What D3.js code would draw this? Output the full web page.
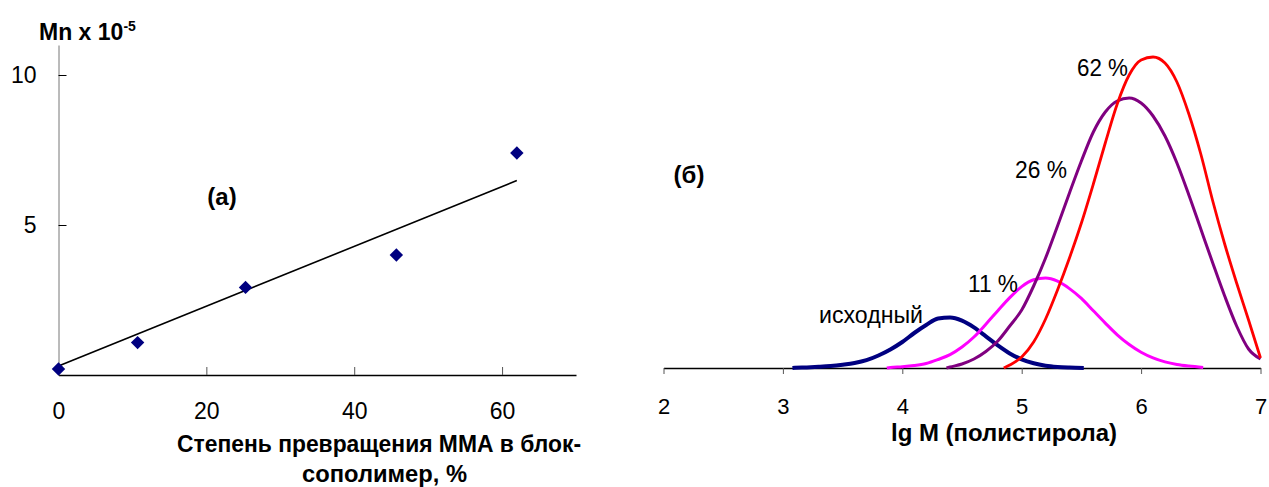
<!DOCTYPE html>
<html>
<head>
<meta charset="utf-8">
<script src="https://cdn.jsdelivr.net/npm/d3@7"></script>
<style>
  body { margin: 0; background: #fff; }
  text { font-family: "Liberation Sans", Arial, sans-serif; }
</style>
</head>
<body>
<script>
// (а) Mn vs conversion
let conversion = [0, 10.7, 25.3, 45.7, 62];
let mn = [0.2, 1.08, 2.92, 4.0, 7.4];
let trendX = [0, 62];
let trendY = [0.3, 6.48];
let leftXTicks = [0, 20, 40, 60];
let leftYTicks = [5, 10];

// (б) MWD curves, lg M vs relative intensity
let lgM0 = [3.08, 3.1, 3.2, 3.3, 3.4, 3.5, 3.6, 3.7, 3.8, 3.9, 4.0, 4.1, 4.2, 4.3, 4.4, 4.5, 4.6, 4.7, 4.8, 4.9, 5.0, 5.1, 5.2, 5.3, 5.4, 5.52];
let w0 = [0, 0.2, 0.6, 1.2, 2, 3.3, 5, 7.8, 12.5, 18.5, 26, 35, 43, 49.5, 50.5, 47.4, 40.6, 31.7, 22.6, 14.6, 8.6, 4.7, 2.3, 1.1, 0.5, 0.1];
let lgM11 = [3.87, 3.9, 4.0, 4.1, 4.2, 4.3, 4.4, 4.5, 4.6, 4.7, 4.8, 4.9, 5.0, 5.1, 5.2, 5.3, 5.4, 5.5, 5.6, 5.7, 5.8, 5.9, 6.0, 6.1, 6.2, 6.3, 6.4, 6.52];
let w11 = [0, 0.5, 1.2, 2.4, 4.5, 8.5, 13.4, 21, 31, 43.8, 57.3, 70.4, 81.4, 88.2, 90, 86.8, 79.4, 69.6, 57.2, 44.9, 33.2, 23.5, 15.8, 10.1, 6.1, 3.5, 1.9, 0.6];
let lgM26 = [4.37, 4.4, 4.5, 4.6, 4.7, 4.8, 4.9, 5.0, 5.1, 5.2, 5.3, 5.4, 5.5, 5.6, 5.7, 5.8, 5.9, 6.0, 6.1, 6.2, 6.3, 6.4, 6.5, 6.6, 6.7, 6.8, 6.9, 7.0];
let w26 = [0, 1, 4, 9, 16.5, 27, 42, 58, 82, 110, 142, 175, 207, 236, 256, 267, 270, 265, 252, 232, 205, 173, 139, 105, 72, 42, 19, 9];
let lgM62 = [4.85, 4.9, 5.0, 5.1, 5.2, 5.3, 5.4, 5.5, 5.6, 5.7, 5.8, 5.9, 6.0, 6.1, 6.2, 6.3, 6.4, 6.5, 6.6, 6.7, 6.8, 6.9, 7.0];
let w62 = [0, 3, 11, 26, 49, 78, 110, 145, 184, 225, 264, 293, 308, 311, 305, 286, 254, 214, 167, 124, 85, 48, 10];
let rightXTicks = [2, 3, 4, 5, 6, 7];

let svg = d3.select('body').append('svg')
    .attr('width', 1269).attr('height', 487)

function styleTicks(g, size) {
  g.selectAll('.tick text').attr('font-size', size)
    .attr('font-family', '"Liberation Sans", Arial, sans-serif').attr('fill', '#000')
}

// ---------- left chart ----------
let xL = d3.scaleLinear().domain([0, 70]).range([58.5, 576])
let yL = d3.scaleLinear().domain([0, 11]).range([375, 45])

let gx = svg.append('g').attr('transform', 'translate(0,375)')
    .call(d3.axisBottom(xL).tickValues(leftXTicks).tickSizeInner(-8).tickSizeOuter(0).tickPadding(28))
gx.select('.domain').attr('stroke', '#000').attr('stroke-width', 1.4)
gx.selectAll('.tick line').attr('stroke', '#555')
styleTicks(gx, 23)

let gy = svg.append('g').attr('transform', 'translate(58.5,0)')
    .call(d3.axisLeft(yL).tickValues(leftYTicks).tickSizeInner(-8).tickSizeOuter(0).tickPadding(22))
gy.select('.domain').attr('stroke', '#777')
gy.selectAll('.tick line').attr('stroke', '#000')
styleTicks(gy, 23)

svg.append('path')
    .datum(d3.zip(trendX, trendY))
    .attr('d', d3.line().x(d => xL(d[0])).y(d => yL(d[1])))
    .attr('fill', 'none').attr('stroke', '#000').attr('stroke-width', 1.6)

svg.selectAll('.pt')
    .data(d3.zip(conversion, mn))
    .enter().append('path')
    .attr('class', 'pt')
    .attr('d', d3.symbol(d3.symbolDiamond2, 115))
    .attr('transform', d => 'translate(' + xL(d[0]) + ',' + yL(d[1]) + ')')
    .attr('fill', '#000080')

let yTitle = svg.append('text').attr('x', 39).attr('y', 40)
    .attr('font-size', 23).attr('font-weight', 'bold')
yTitle.append('tspan').text('Mn x 10')
yTitle.append('tspan').text('-5').attr('font-size', 14).attr('dy', -9)

svg.append('text').attr('x', 222).attr('y', 205).attr('text-anchor', 'middle')
    .attr('font-size', 24).attr('font-weight', 'bold').text('(а)')

svg.append('text').attr('x', 177).attr('y', 452)
    .attr('font-size', 24).attr('font-weight', 'bold')
    .attr('textLength', 404).attr('lengthAdjust', 'spacingAndGlyphs')
    .text('Степень превращения ММА в блок-')
svg.append('text').attr('x', 302).attr('y', 482)
    .attr('font-size', 24).attr('font-weight', 'bold')
    .attr('textLength', 165).attr('lengthAdjust', 'spacingAndGlyphs')
    .text('сополимер, %')

// ---------- right chart ----------
let xR = d3.scaleLinear().domain([2, 7]).range([663.5, 1260.5])
let yR = d3.scaleLinear().domain([0, 311]).range([368, 57])

let gxr = svg.append('g').attr('transform', 'translate(0,368)')
    .call(d3.axisBottom(xR).tickValues(rightXTicks).tickFormat(d3.format('d'))
      .tickSizeInner(6).tickSizeOuter(0).tickPadding(24))
gxr.select('.domain').attr('stroke', '#000').attr('stroke-width', 1.3)
gxr.selectAll('.tick line').attr('stroke', '#555')
styleTicks(gxr, 22)

let curves = [
  {x: lgM0, y: w0, color: '#000080', width: 4},
  {x: lgM11, y: w11, color: '#ff00ff', width: 3},
  {x: lgM26, y: w26, color: '#800080', width: 3},
  {x: lgM62, y: w62, color: '#ff0000', width: 2.8}
]
let line = d3.line().x(d => xR(d[0])).y(d => yR(d[1])).curve(d3.curveMonotoneX)
svg.selectAll('.curve')
    .data(curves)
    .enter().append('path')
    .attr('class', 'curve')
    .attr('d', c => line(d3.zip(c.x, c.y)))
    .attr('fill', 'none')
    .attr('stroke', c => c.color)
    .attr('stroke-width', c => c.width)
    .attr('stroke-linejoin', 'round')

let curveLabels = [
  {t: 'исходный', x: 819, y: 323, w: 104},
  {t: '11 %', x: 968, y: 292, w: 50},
  {t: '26 %', x: 1015, y: 178, w: 52},
  {t: '62 %', x: 1077, y: 76, w: 51}
]
svg.selectAll('.clab')
    .data(curveLabels)
    .enter().append('text')
    .attr('class', 'clab')
    .attr('x', d => d.x).attr('y', d => d.y)
    .attr('font-size', 23)
    .attr('textLength', d => d.w).attr('lengthAdjust', 'spacingAndGlyphs')
    .text(d => d.t)

svg.append('text').attr('x', 689).attr('y', 183).attr('text-anchor', 'middle')
    .attr('font-size', 24).attr('font-weight', 'bold').text('(б)')

svg.append('text').attr('x', 891).attr('y', 441)
    .attr('font-size', 23).attr('font-weight', 'bold')
    .attr('textLength', 226).attr('lengthAdjust', 'spacingAndGlyphs')
    .text('lg M (полистирола)')
</script>
</body>
</html>
